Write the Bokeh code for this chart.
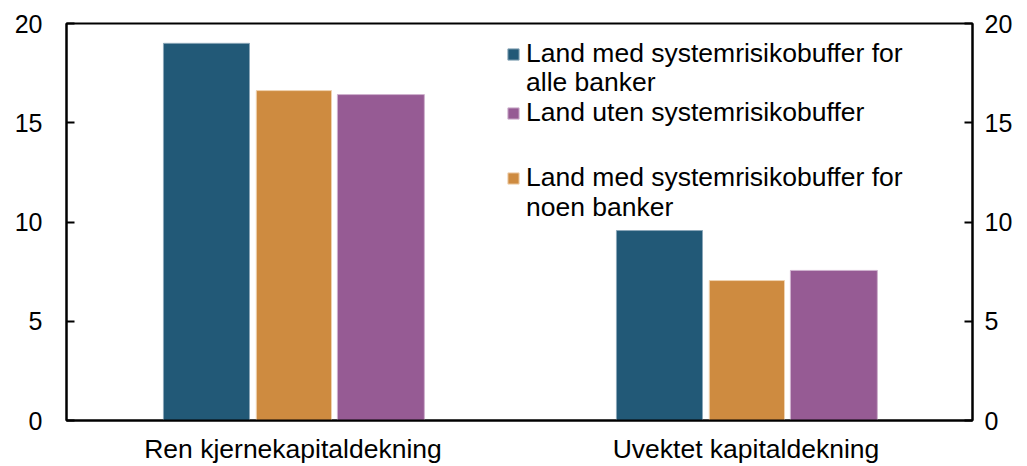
from bokeh.plotting import figure
from bokeh.models import (FactorRange, Range1d, LinearAxis, Legend, LegendItem,
                          FixedTicker, ColumnDataSource)
from bokeh.transform import dodge
from bokeh.embed import file_html
from bokeh.resources import INLINE

categories = ["Ren kjernekapitaldekning", "Uvektet kapitaldekning"]
alle_banker = [19.0, 9.57]
noen_banker = [16.62, 7.05]
uten_buffer = [16.42, 7.56]
label_alle = ["Land med systemrisikobuffer for", "alle banker"]
label_uten = ["Land uten systemrisikobuffer"]
label_noen = ["Land med systemrisikobuffer for", "noen banker"]
y_ticks = [0, 5, 10, 15, 20]

FONT = "Liberation Sans"
BLUE = "#225977"
ORANGE = "#CE8B40"
PURPLE = "#965B94"
FS_TICK = "25px"
FS_TEXT = "26.5px"

src = ColumnDataSource(dict(cat=categories, alle=alle_banker,
                            noen=noen_banker, uten=uten_buffer))

p = figure(width=1027, height=466,
           x_range=FactorRange(*categories, range_padding=0),
           y_range=Range1d(0, 20),
           output_backend="svg", toolbar_location=None,
           min_border_left=66, min_border_right=55,
           min_border_top=23, min_border_bottom=45)

p.outline_line_color = "black"
p.outline_line_width = 2
p.xgrid.visible = False
p.ygrid.visible = False

r_alle = p.vbar(x=dodge("cat", -0.191, range=p.x_range), top="alle", width=0.19,
                source=src, fill_color=BLUE, line_color="#8aa6b8", line_width=1)
r_noen = p.vbar(x=dodge("cat", 0.002, range=p.x_range), top="noen", width=0.166,
                source=src, fill_color=ORANGE, line_color="#f0d2b0", line_width=1)
r_uten = p.vbar(x=dodge("cat", 0.194, range=p.x_range), top="uten", width=0.192,
                source=src, fill_color=PURPLE, line_color="#cfb2ce", line_width=1)
# invisible renderer used for the continuation lines of legend labels
r_blank = p.vbar(x=[], top=[], width=0.1, fill_alpha=0, line_alpha=0)

# axes
xa = p.xaxis[0]
xa.major_tick_in = 0
xa.major_tick_out = 0
xa.axis_line_color = "black"
xa.axis_line_width = 2
xa.major_label_text_font = FONT
xa.major_label_text_font_size = FS_TEXT
xa.major_label_text_color = "black"
xa.major_label_standoff = 13

ya = p.yaxis[0]
ya.ticker = FixedTicker(ticks=y_ticks)
ra = LinearAxis(ticker=FixedTicker(ticks=y_ticks))
p.add_layout(ra, "right")
for ax, so in ((ya, 24), (ra, 12)):
    ax.major_tick_in = 8
    ax.major_tick_out = 0
    ax.minor_tick_in = 0
    ax.minor_tick_out = 0
    ax.axis_line_color = "black"
    ax.axis_line_width = 2
    ax.major_tick_line_width = 2
    ax.major_label_text_font = FONT
    ax.major_label_text_font_size = FS_TICK
    ax.major_label_text_color = "black"
    ax.major_label_standoff = so

# legend: one single-line legend per text row, so each square sits on its first row
rows = [(label_alle[0], r_alle, 351),
        (label_alle[1], r_blank, 322),
        (label_uten[0], r_uten, 292),
        (label_noen[0], r_noen, 227),
        (label_noen[1], r_blank, 197)]
for text, rend, ybot in rows:
    lg = Legend(items=[LegendItem(label=text, renderers=[rend])], location=(440, ybot))
    lg.border_line_color = None
    lg.background_fill_alpha = 0
    lg.padding = 0
    lg.margin = 0
    lg.spacing = 0
    lg.glyph_width = 14
    lg.glyph_height = 14
    lg.label_standoff = 6
    lg.label_text_font = FONT
    lg.label_text_font_size = FS_TEXT
    lg.label_text_color = "black"
    p.add_layout(lg)

open("out.html", "w").write(file_html(p, INLINE))
